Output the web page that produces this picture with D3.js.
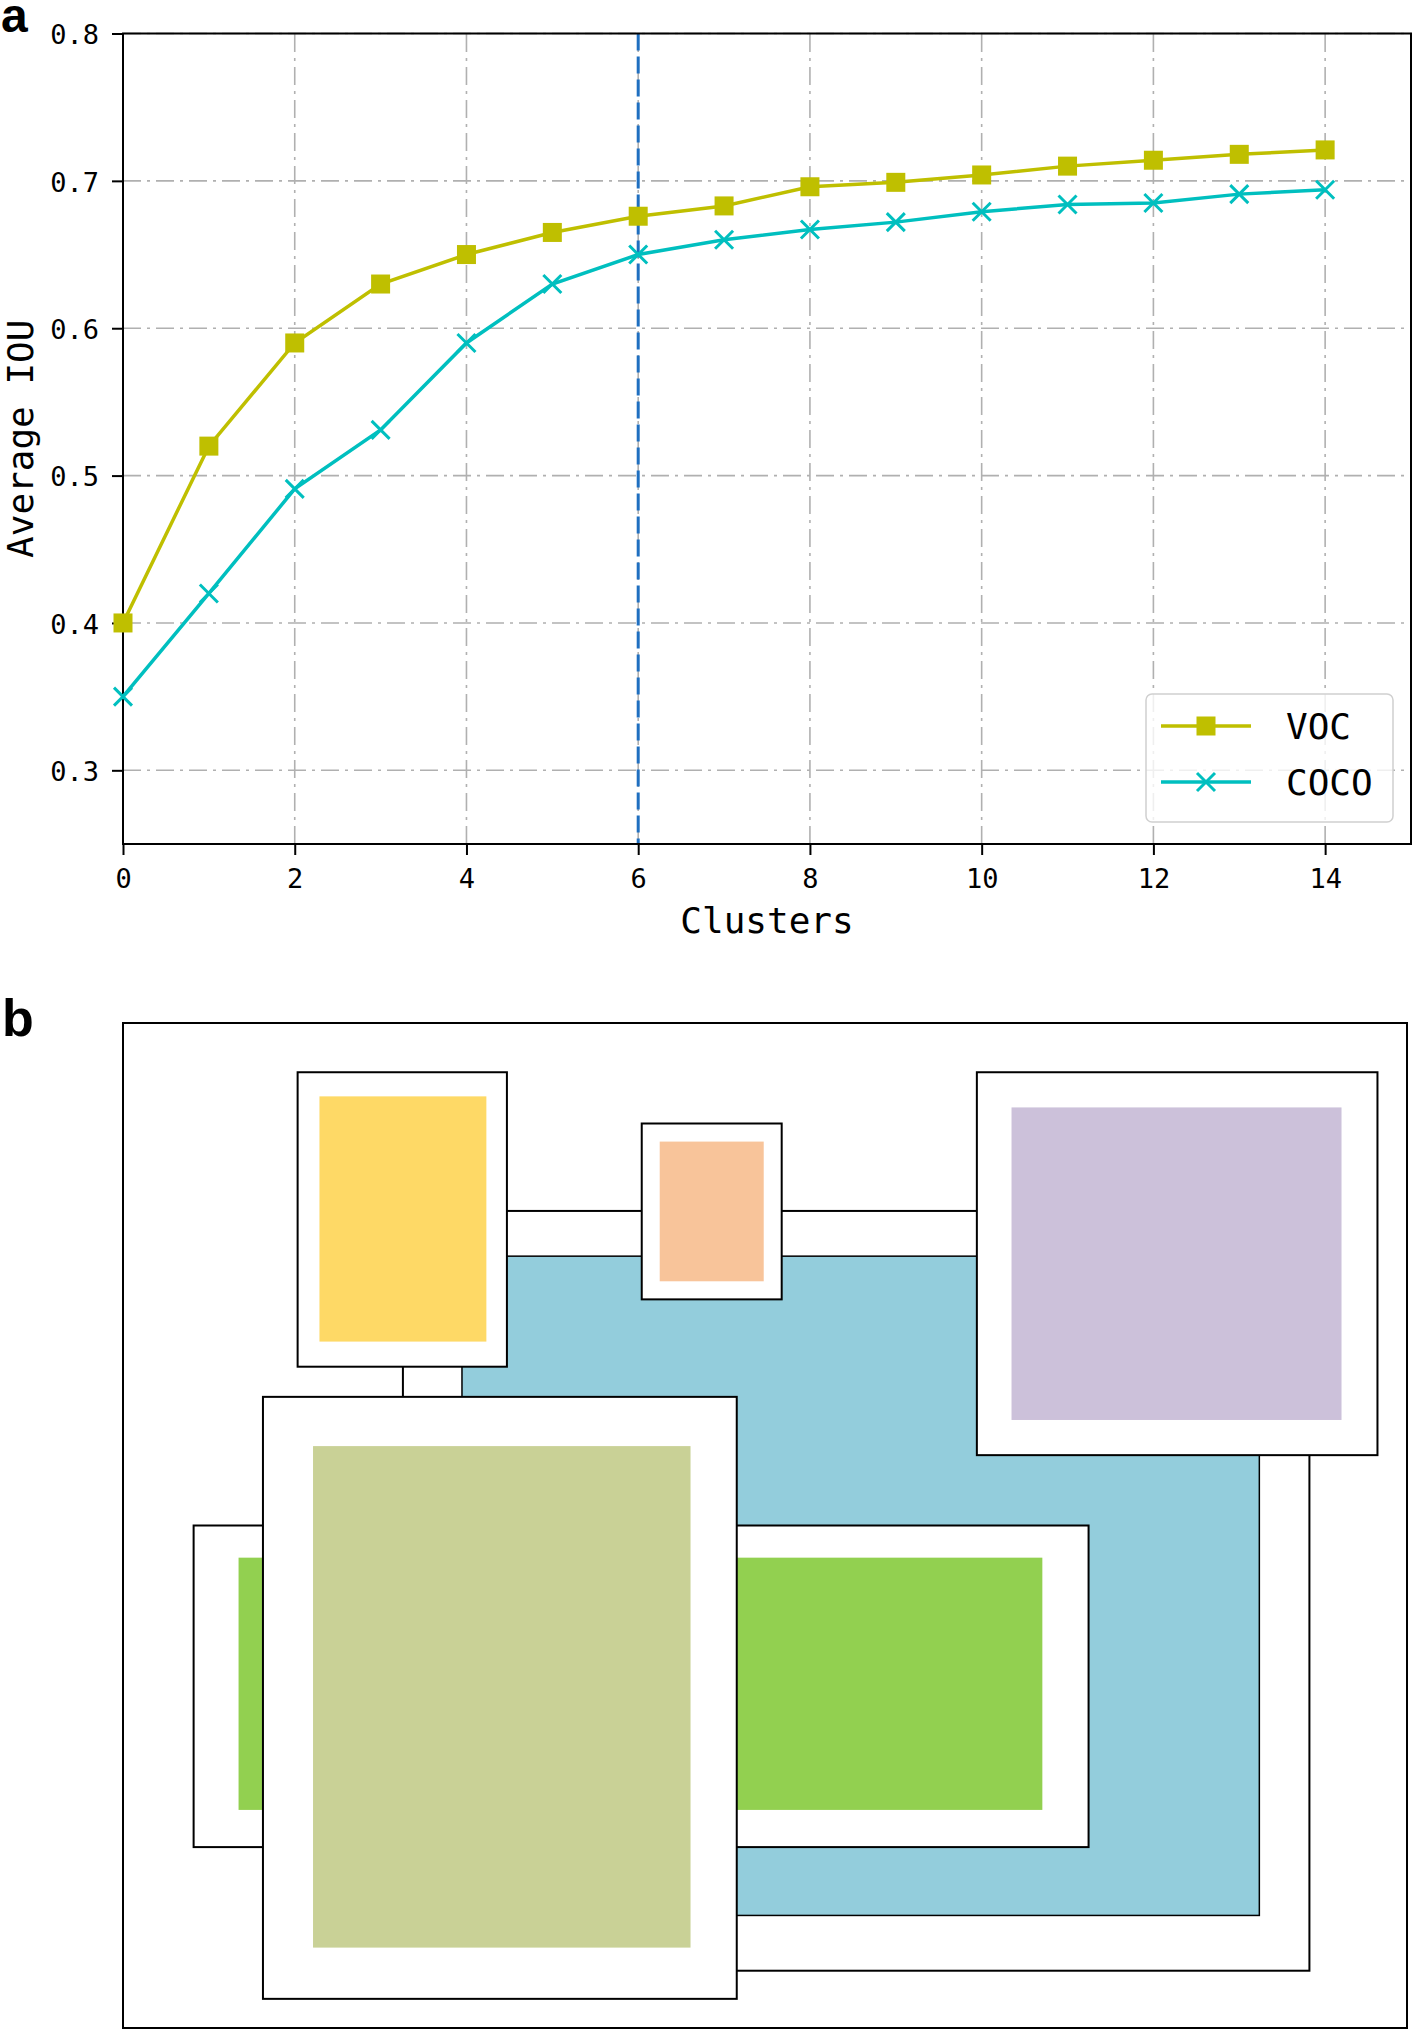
<!DOCTYPE html>
<html lang="en">
<head>
  <meta charset="UTF-8">
  <title>Clusters vs Average IOU</title>
  <script src="https://d3js.org/d3.v7.min.js"></script>
  <style>
    body { margin: 0; background: #fff; }

    /* tick text looks like a half-width CJK face in the original */
    .axis text {
      font-family: "DejaVu Sans Mono", monospace;
      font-size: 27px;
      fill: #000;
    }

    .axis line {
      stroke: #000;
      stroke-width: 2px;
    }

    .axis-label {
      font-family: "DejaVu Sans Mono", monospace;
      font-size: 36px;
    }

    .grid line {
      stroke: #b0b0b0;
      stroke-width: 1.6px;
      stroke-dasharray: 18,6,3,6;
    }

    .panel-tag {
      font-family: "Liberation Sans", Arial, sans-serif;
      font-weight: bold;
    }
  </style>
</head>
<body>
<svg id="chart" width="1418" height="2030"></svg>
<script>
  // ---- panel a data ----
  const clusters = [0, 1, 2, 3, 4, 5, 6, 7, 8, 9, 10, 11, 12, 13, 14];
  const vocIoU  = [0.400, 0.520, 0.590, 0.630, 0.650, 0.665, 0.676, 0.683, 0.696, 0.699, 0.704, 0.710, 0.714, 0.718, 0.721];
  const cocoIoU = [0.350, 0.420, 0.491, 0.531, 0.590, 0.630, 0.650, 0.660, 0.667, 0.672, 0.679, 0.684, 0.685, 0.691, 0.694];
  const seriesNames = ["VOC", "COCO"];
  const xTicks = [0, 2, 4, 6, 8, 10, 12, 14];
  const yTicks = [0.3, 0.4, 0.5, 0.6, 0.7, 0.8];
  const chosenK = 6;

  // ---- panel b data: boxes in percent of the outer image box [x0, y0, x1, y1] ----
  const boxNames  = ["blue", "yellow", "orange", "purple", "green", "olive"];
  const boxFrames = [
    [21.8, 18.7, 92.4, 94.3],
    [13.6,  4.9, 29.9, 34.2],
    [40.4, 10.0, 51.3, 27.5],
    [66.5,  4.9, 97.7, 43.0],
    [ 5.5, 50.0, 75.2, 82.0],
    [10.9, 37.2, 47.8, 97.1]
  ];
  const boxFills = [
    [26.4, 23.2, 88.5, 88.8],
    [15.3,  7.3, 28.3, 31.7],
    [41.8, 11.8, 49.9, 25.7],
    [69.2,  8.4, 94.9, 39.5],
    [ 9.0, 53.2, 71.6, 78.3],
    [14.8, 42.1, 44.2, 92.0]
  ];

  const seriesColor = {VOC: "#bfbf00", COCO: "#00bfbf"};
  const boxColor = {
    blue: "#93cddc", yellow: "#fed966", orange: "#f8c49a",
    purple: "#ccc1da", green: "#92d050", olive: "#c9d196"
  };

  const svg = d3.select("#chart");

  // ================= panel a =================
  const x = d3.scaleLinear().domain([0, 15]).range([123, 1411]);
  const y = d3.scaleLinear().domain([0.25, 0.8]).range([844, 33.5]);

  const plot = svg.append("g");

  // grid
  const grid = plot.append("g").attr("class", "grid");
  grid.selectAll(".gx")
      .data(xTicks)
      .enter().append("line")
      .attr("x1", d => x(d)).attr("x2", d => x(d))
      .attr("y1", y.range()[0]).attr("y2", y.range()[1]);
  grid.selectAll(".gy")
      .data(yTicks)
      .enter().append("line")
      .attr("x1", x.range()[0]).attr("x2", x.range()[1])
      .attr("y1", d => y(d)).attr("y2", d => y(d));

  // chosen cluster count
  plot.append("line")
      .attr("x1", x(chosenK)).attr("x2", x(chosenK))
      .attr("y1", y.range()[1]).attr("y2", y.range()[0])
      .attr("stroke", "#1f6fc0")
      .attr("stroke-width", 3)
      .attr("stroke-dasharray", "17,6");

  // axes
  plot.append("g")
      .attr("class", "axis")
      .attr("transform", "translate(0," + y.range()[0] + ")")
      .call(d3.axisBottom(x).tickValues(xTicks).tickSize(11).tickSizeOuter(0).tickPadding(14))
      .call(g => g.select(".domain").remove())
      .call(g => g.selectAll("text").attr("font-family", null).attr("font-size", null));

  plot.append("g")
      .attr("class", "axis")
      .attr("transform", "translate(" + x.range()[0] + ",0)")
      .call(d3.axisLeft(y).tickValues(yTicks).tickFormat(d3.format(".1f")).tickSize(11).tickSizeOuter(0).tickPadding(13))
      .call(g => g.select(".domain").remove())
      .call(g => g.selectAll("text").attr("font-family", null).attr("font-size", null).attr("dy", "0.38em"));

  // spines
  plot.append("rect")
      .attr("x", x.range()[0]).attr("y", y.range()[1])
      .attr("width", x.range()[1] - x.range()[0])
      .attr("height", y.range()[0] - y.range()[1])
      .attr("fill", "none")
      .attr("stroke", "#000")
      .attr("stroke-width", 2);

  plot.append("text")
      .attr("class", "axis-label")
      .attr("x", (x.range()[0] + x.range()[1]) / 2)
      .attr("y", 933)
      .attr("text-anchor", "middle")
      .text("Clusters");

  plot.append("text")
      .attr("class", "axis-label")
      .attr("transform", "translate(33," + ((y.range()[0] + y.range()[1]) / 2) + ") rotate(-90)")
      .attr("text-anchor", "middle")
      .text("Average IOU");

  // series
  const series = [
    {name: seriesNames[0], values: vocIoU, marker: "square"},
    {name: seriesNames[1], values: cocoIoU, marker: "cross"}
  ];

  const line = d3.line()
      .x((d, i) => x(clusters[i]))
      .y(d => y(d));

  function drawMarker(g, kind, color) {
    if (kind === "square") {
      g.append("rect")
          .attr("x", -9.5).attr("y", -9.5)
          .attr("width", 19).attr("height", 19)
          .attr("fill", color);
    } else {
      g.append("path")
          .attr("d", "M-9,-9L9,9M-9,9L9,-9")
          .attr("stroke", color)
          .attr("stroke-width", 3)
          .attr("fill", "none");
    }
  }

  series.forEach(s => {
    plot.append("path")
        .datum(s.values)
        .attr("d", line)
        .attr("fill", "none")
        .attr("stroke", seriesColor[s.name])
        .attr("stroke-width", 3.5);

    plot.selectAll(".m-" + s.name)
        .data(s.values)
        .enter().append("g")
        .attr("transform", (d, i) => "translate(" + x(clusters[i]) + "," + y(d) + ")")
        .each(function () { drawMarker(d3.select(this), s.marker, seriesColor[s.name]); });
  });

  // legend
  const legend = plot.append("g");
  legend.append("rect")
      .attr("x", 1146).attr("y", 694)
      .attr("width", 247).attr("height", 128)
      .attr("rx", 6)
      .attr("fill", "#fff").attr("fill-opacity", 0.8)
      .attr("stroke", "#d0d0d0").attr("stroke-width", 1.5);

  const legendRow = d3.scaleBand().domain(seriesNames).range([698, 810]);
  series.forEach(s => {
    const cy = legendRow(s.name) + legendRow.bandwidth() / 2;
    legend.append("line")
        .attr("x1", 1161).attr("x2", 1251)
        .attr("y1", cy).attr("y2", cy)
        .attr("stroke", seriesColor[s.name])
        .attr("stroke-width", 3.5);
    const m = legend.append("g").attr("transform", "translate(1206," + cy + ")");
    drawMarker(m, s.marker, seriesColor[s.name]);
    legend.append("text")
        .attr("class", "axis-label")
        .attr("x", 1286)
        .attr("y", cy + 13)
        .text(s.name);
  });

  svg.append("text")
      .attr("class", "panel-tag")
      .attr("x", 1).attr("y", 32)
      .attr("font-size", 48)
      .text("a");

  // ================= panel b =================
  const bx = d3.scaleLinear().domain([0, 100]).range([123, 1407]);
  const by = d3.scaleLinear().domain([0, 100]).range([1023, 2028]);

  svg.append("text")
      .attr("class", "panel-tag")
      .attr("x", 2).attr("y", 1036)
      .attr("font-size", 52)
      .text("b");

  const boxes = svg.append("g");

  boxes.append("rect")
      .attr("x", bx(0)).attr("y", by(0))
      .attr("width", bx(100) - bx(0))
      .attr("height", by(100) - by(0))
      .attr("fill", "#fff")
      .attr("stroke", "#000")
      .attr("stroke-width", 2);

  boxNames.forEach((name, i) => {
    const f = boxFrames[i], c = boxFills[i];
    boxes.append("rect")
        .attr("x", bx(f[0])).attr("y", by(f[1]))
        .attr("width", bx(f[2]) - bx(f[0]))
        .attr("height", by(f[3]) - by(f[1]))
        .attr("fill", "#fff")
        .attr("stroke", "#000")
        .attr("stroke-width", 2);
    boxes.append("rect")
        .attr("x", bx(c[0])).attr("y", by(c[1]))
        .attr("width", bx(c[2]) - bx(c[0]))
        .attr("height", by(c[3]) - by(c[1]))
        .attr("fill", boxColor[name])
        .attr("stroke", name === "blue" ? "#000" : "none")
        .attr("stroke-width", 1.5);
  });
</script>
</body>
</html>
